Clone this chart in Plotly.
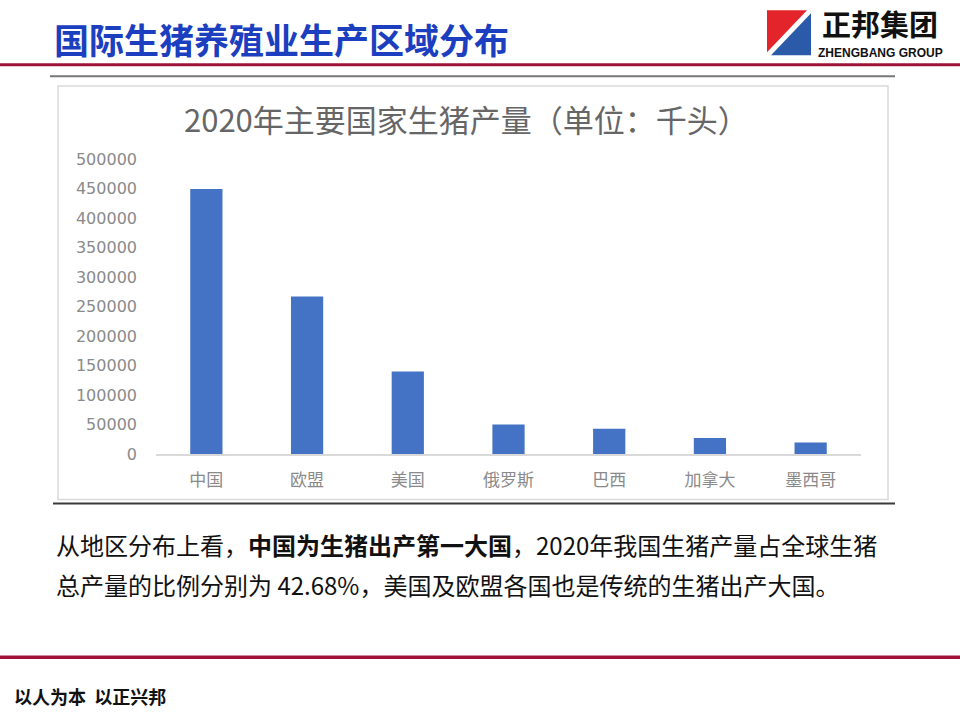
import plotly.graph_objects as go

categories = ["中国", "欧盟", "美国", "俄罗斯", "巴西", "加拿大", "墨西哥"]
production = [449000, 267000, 140000, 50000, 42700, 27000, 19500]
y_ticks = [0, 50000, 100000, 150000, 200000, 250000, 300000, 350000, 400000, 450000, 500000]
y_ticklabels = [str(v) for v in y_ticks]

page_title = "国际生猪养殖业生产区域分布"
chart_title = "2020年主要国家生猪产量（单位：千头）"
line1 = "从地区分布上看，<b>中国为生猪出产第一大国</b>，2020年我国生猪产量占全球生猪"
line2 = "总产量的比例分别为 42.68%，美国及欧盟各国也是传统的生猪出产大国。"
footer = "以人为本&nbsp;&nbsp;以正兴邦"

CJK = "Noto Sans CJK SC"

fig = go.Figure()
fig.add_trace(go.Bar(
    x=categories, y=production,
    marker=dict(color="#4472C4", line=dict(width=0)),
    hoverinfo="x+y",
))

W, H = 960, 720
ML, MR, MT, MB = 156, 99, 159, 265.5
PW = W - ML - MR
PH = H - MT - MB

def px(x):
    return (x - ML) / PW

def py(y):
    return (H - MB - y) / PH

shapes = [
    # red top line
    dict(type="line", xref="paper", yref="paper", x0=px(0), x1=px(960), y0=py(64.5), y1=py(64.5),
         line=dict(color="#9E1239", width=3)),
    # gray line under title
    dict(type="line", xref="paper", yref="paper", x0=px(50), x1=px(895), y0=py(76), y1=py(76),
         line=dict(color="#777777", width=2)),
    # chart frame
    dict(type="rect", xref="paper", yref="paper", x0=px(58), x1=px(888), y0=py(500), y1=py(86),
         line=dict(color="#DADADA", width=1.5), layer="below"),
    # dark line under chart
    dict(type="line", xref="paper", yref="paper", x0=px(53), x1=px(895), y0=py(504), y1=py(504),
         line=dict(color="#3A3A3A", width=2)),
    # bottom red line
    dict(type="line", xref="paper", yref="paper", x0=px(0), x1=px(960), y0=py(658), y1=py(658),
         line=dict(color="#9E1239", width=3.5)),
    # logo red triangle
    dict(type="path", xref="paper", yref="paper",
         path=f"M {px(767)},{py(10)} L {px(807)},{py(10)} L {px(767)},{py(52)} Z",
         fillcolor="#E3242B", line=dict(width=0)),
    # logo blue triangle
    dict(type="path", xref="paper", yref="paper",
         path=f"M {px(811)},{py(13)} L {px(811)},{py(55)} L {px(771)},{py(55)} Z",
         fillcolor="#2B5BA8", line=dict(width=0)),
]

annotations = [
    dict(text=f"<b>{page_title}</b>", x=px(52), y=py(38), xref="paper", yref="paper",
         xanchor="left", yanchor="middle", showarrow=False,
         font=dict(family=CJK, size=35, color="#1C3FC0")),
    dict(text="<b>正邦集团</b>", x=px(880), y=py(45), xref="paper", yref="paper",
         xanchor="center", yanchor="bottom", showarrow=False, borderpad=0,
         font=dict(family=CJK, size=29, color="#111111")),
    dict(text="<b>ZHENGBANG GROUP</b>", x=px(880), y=py(45), xref="paper", yref="paper",
         xanchor="center", yanchor="top", showarrow=False, borderpad=0,
         font=dict(family="Liberation Sans", size=12, color="#111111")),
    dict(text=chart_title, x=px(466), y=py(118), xref="paper", yref="paper",
         xanchor="center", yanchor="middle", showarrow=False,
         font=dict(family=CJK, size=31, color="#666666")),
    dict(text=line1, x=px(54), y=py(545), xref="paper", yref="paper",
         xanchor="left", yanchor="middle", showarrow=False,
         font=dict(family=CJK, size=24, color="#111111")),
    dict(text=line2, x=px(54), y=py(585), xref="paper", yref="paper",
         xanchor="left", yanchor="middle", showarrow=False,
         font=dict(family=CJK, size=24, color="#111111")),
    dict(text=f"<b>{footer}</b>", x=px(12), y=py(697), xref="paper", yref="paper",
         xanchor="left", yanchor="middle", showarrow=False,
         font=dict(family=CJK, size=18, color="#111111")),
]

fig.update_layout(
    width=W, height=H,
    paper_bgcolor="white", plot_bgcolor="white",
    margin=dict(l=ML, r=MR, t=MT, b=MB, pad=0),
    bargap=0.68,
    showlegend=False,
    shapes=shapes,
    annotations=annotations,
    xaxis=dict(
        showline=True, linecolor="#D9D9D9", linewidth=1.5,
        showgrid=False, ticks="", ticklen=0,
        ticklabelstandoff=10,
        tickfont=dict(family=CJK, size=17, color="#8A8A8A"),
        fixedrange=True,
    ),
    yaxis=dict(
        range=[0, 500000], tickvals=y_ticks, ticktext=y_ticklabels,
        showgrid=False, zeroline=False, showline=False, ticks="",
        ticklabelstandoff=18,
        tickfont=dict(family="DejaVu Sans", size=16, color="#8A8A8A"),
        fixedrange=True,
    ),
)

fig.write_html(
    "out.html",
    config={"displayModeBar": False},
    post_script="document.body.style.margin='0';document.body.style.padding='0';document.body.style.overflow='hidden';",
)
